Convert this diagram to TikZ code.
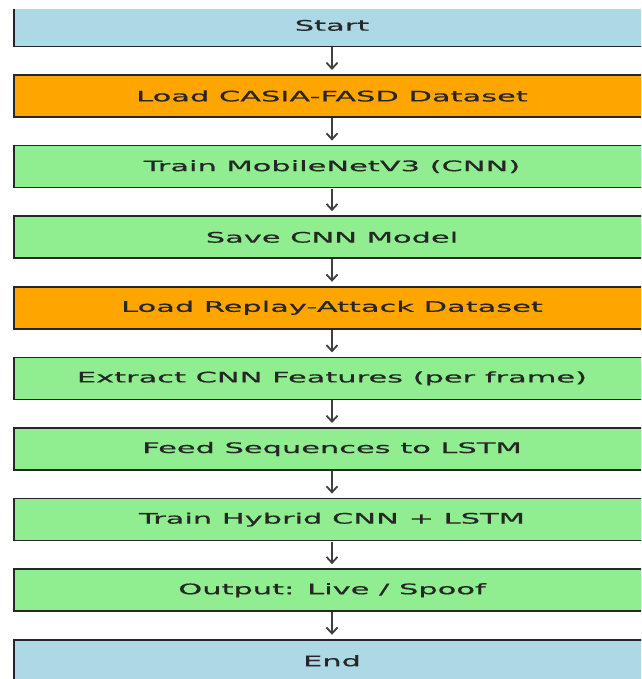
\documentclass[tikz,border=0pt]{standalone}
\usepackage{fontspec}
\usepackage{tikz}
\usetikzlibrary{arrows.meta}
\newfontfamily\stepfont[FakeStretch=2.1,FakeBold=0.6]{DejaVu Sans}
\definecolor{termblue}{HTML}{ADD8E6}
\definecolor{loadorange}{HTML}{FFA500}
\definecolor{procgreen}{HTML}{90EE90}

\begin{document}
\begin{tikzpicture}[x=1pt,y=-1pt,
	stepbox/.style={draw=black!85, line width=1.5pt, minimum width=636pt, minimum height=42pt,
		inner sep=0pt, outer sep=0pt, font=\stepfont\fontsize{14.5}{16}\selectfont, text=black!85},
	flow/.style={-{Straight Barb[length=6pt,width=11pt]}, line width=1.8pt, draw=black!75,
		shorten <=1pt, shorten >=5pt}]
	\useasboundingbox (0,0) rectangle (641,679);
	\clip (0,10) rectangle (641,679);
	%\draw[help lines] (0,0) grid[step=50] (641,679);
	\node[stepbox, fill=termblue]   (start)   at (332,25.4)  {Start};
	\node[stepbox, fill=loadorange] (casia)   at (332,96)    {Load CASIA-FASD Dataset};
	\node[stepbox, fill=procgreen]  (traincnn) at (332,166.6) {Train MobileNetV3 (CNN)};
	\node[stepbox, fill=procgreen]  (savecnn) at (332,237.2) {Save CNN Model};
	\node[stepbox, fill=loadorange] (replay)  at (332,307.8) {Load Replay-Attack Dataset};
	\node[stepbox, fill=procgreen]  (extract) at (332,378.4) {Extract CNN Features (per frame)};
	\node[stepbox, fill=procgreen]  (feed)    at (332,449)   {Feed Sequences to LSTM};
	\node[stepbox, fill=procgreen]  (hybrid)  at (332,519.6) {Train Hybrid CNN + LSTM};
	\node[stepbox, fill=procgreen]  (output)  at (332,590.2) {Output: Live / Spoof};
	\node[stepbox, fill=termblue]   (finish)  at (332,660.8) {End};
	\draw[flow] (start)--(casia);
	\draw[flow] (casia)--(traincnn);
	\draw[flow] (traincnn)--(savecnn);
	\draw[flow] (savecnn)--(replay);
	\draw[flow] (replay)--(extract);
	\draw[flow] (extract)--(feed);
	\draw[flow] (feed)--(hybrid);
	\draw[flow] (hybrid)--(output);
	\draw[flow] (output)--(finish);
\end{tikzpicture}
\end{document}
